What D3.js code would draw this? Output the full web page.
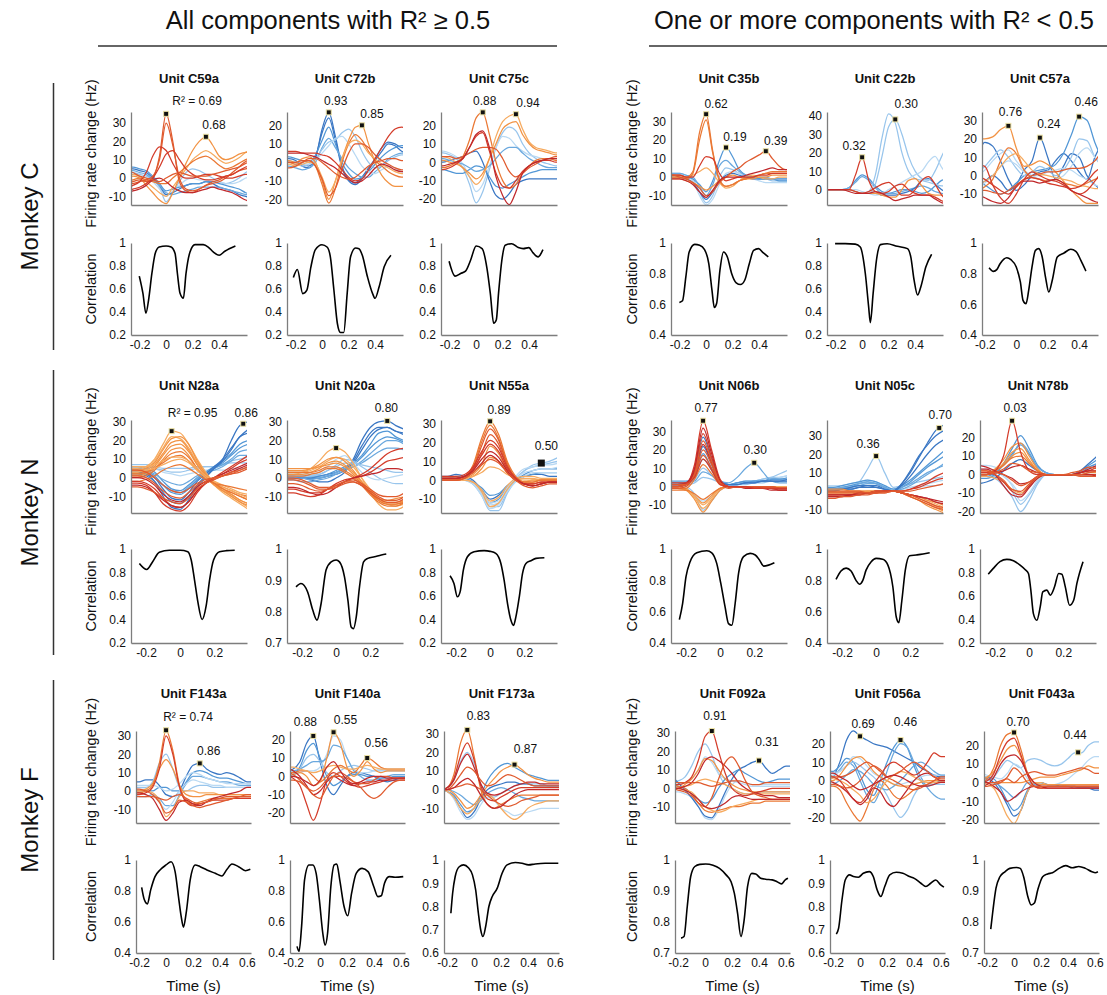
<!DOCTYPE html>
<html>
<head>
<meta charset="utf-8">
<script src="https://cdn.jsdelivr.net/npm/d3@7"></script>
<style>
  body { margin: 0; background: #fff; }
  svg text { font-family: "Liberation Sans", Arial, Helvetica, sans-serif; fill: #111; }
</style>
</head>
<body>
<script>
// ---------- time grids (s) ----------
var tC = [-0.30,-0.25,-0.20,-0.15,-0.10,-0.05,0,0.05,0.10,0.15,0.20,0.25,0.30,0.35,0.40,0.45,0.50,0.55,0.60,0.65];
var tC57 = [-0.25,-0.20,-0.15,-0.10,-0.05,0,0.05,0.10,0.15,0.20,0.25,0.30,0.35,0.40,0.45,0.50,0.55];
var tN = [-0.30,-0.25,-0.20,-0.15,-0.10,-0.05,0,0.05,0.10,0.15,0.20,0.25,0.30,0.35,0.40];
var tF = [-0.30,-0.25,-0.20,-0.15,-0.10,-0.05,0,0.05,0.10,0.15,0.20,0.25,0.30,0.35,0.40,0.45,0.50,0.55,0.60,0.65];

// ---------- tick labels ----------
var ticksRate30 = [-10,0,10,20,30];
var ticksRate20 = [-20,-10,0,10,20];
var ticksRate40 = [0,10,20,30,40];
var ticksCorr02 = [0.2,0.4,0.6,0.8,1];
var ticksCorr04 = [0.4,0.6,0.8,1];
var ticksCorr06 = [0.6,0.7,0.8,0.9,1];
var ticksCorr07 = [0.7,0.8,0.9,1];
var ticksTimeC = [-0.2,0,0.2,0.4];
var ticksTimeN = [-0.2,0,0.2];
var ticksTimeF = [-0.2,0,0.2,0.4,0.6];

// component groups (first entry of each firing-rate row)
var groups = ["db","mb","b2","lb","lb2","lo","o","do","ro","r","dr"];

// ================= Monkey C =================
var ratesC59a = [
  ["lb", 3,3,2,1,-1,-5,-13,-8,-2,3,5,4,2,0,-2,-3,-2,0,3,4],
  ["lb2", 2,2,1,0,-2,-6,-10,-7,-4,-1,0,-1,-1,-2,-2,-3,-3,-2,0,1],
  ["db", 5,5,4,3,0,-4,-9,-8,-6,-4,-3,-3,-2,-3,-5,-6,-7,-9,-10,-11],
  ["mb", 6,6,5,4,1,-3,-7,-6,-5,-4,-3,-3,-2,-2,-3,-4,-5,-6,-8,-9],
  ["b2", 4,4,3,2,-1,-4,-8,-9,-8,-7,-6,-5,-5,-5,-5,-6,-7,-8,-9,-9],
  ["lo", 2,2,1,-2,-5,-8,-10,-5,0,5,10,13,15,13,10,8,9,11,14,15],
  ["o", 0,1,0,-4,-8,-12,-14,-8,0,8,15,20,22.5,18,12,10,11,13,14,14],
  ["do", -2,-1,0,-1,-2,-3,-3,0,3,6,9,11,12,10,7,5,6,8,10,11],
  ["ro", -3,-2,-1,-2,0,12,35,20,-2,-7,-8,-6,-4,-3,-2,0,3,6,9,10],
  ["ro", -3,-3,-2,-1,1,10,30,18,0,-6,-7,-6,-4,-2,-1,1,2,4,5,6],
  ["r", -5,-4,-2,3,12,17,15,8,2,0,0,1,2,2,1,0,0,1,2,2],
  ["r", -7,-6,-5,-3,0,6,13,15,10,5,2,0,-1,-1,0,1,2,4,6,7],
  ["dr", -8,-7,-6,-4,-1,0,-2,-5,-7,-8,-8,-7,-6,-5,-6,-7,-8,-10,-12,-13],
  ["ro", 4,3,1,0,-1,-2,0,2,3,2,1,1,1,2,3,4,5,6,8,9]
];
var peaksC59a = [[0, 35, "R² = 0.69"], [0.30, 22.5, "0.68"]];
var corrC59a = [[-0.2025,0.712],[-0.175,0.562],[-0.1525,0.389],[-0.1325,0.504],[-0.1075,0.735],[-0.0825,0.908],[-0.0525,0.965],[0,0.974],[0.0375,0.965],[0.0675,0.908],[0.085,0.735],[0.105,0.562],[0.13,0.519],[0.15,0.735],[0.18,0.922],[0.2175,0.986],[0.28,0.986],[0.3175,0.965],[0.355,0.922],[0.40,0.893],[0.4425,0.928],[0.5225,0.974]];

var ratesC72b = [
  ["db", 2,2,1,-2,-3,2,18,27,14,-2,-9,-11,-8,-3,2,8,11,10,8,8],
  ["db", 0,0,0,-1,-2,3,16,24,12,-3,-10,-12,-9,-4,1,6,10,9,6,5],
  ["mb", 3,3,2,1,0,4,12,19,10,0,-6,-9,-8,-5,-1,3,6,8,9,9],
  ["b2", -2,-2,-3,-4,-3,0,8,13,8,2,-3,-6,-8,-8,-5,-2,2,4,5,5],
  ["lb", 0,0,-1,-2,-1,2,7,11,12,16,18,14,6,0,-3,-2,1,3,4,4],
  ["lb2", 1,1,0,-1,-1,1,5,9,13,14,10,4,-2,-5,-6,-4,-2,-3,-5,-6],
  ["o", 1,1,0,2,3,0,-10,-20,-10,2,12,19,20,10,0,-7,-11,-13,-13,-13],
  ["do", 0,0,-1,0,1,-2,-12,-22,-14,0,10,15,12,6,1,-2,-5,-7,-8,-8],
  ["lo", -1,-1,-2,-1,0,-1,-8,-16,-10,2,10,12,10,5,2,-1,-3,-5,-6,-6],
  ["ro", 0,0,0,1,1,-2,-9,-18,-14,-4,5,10,10,8,4,1,-1,-3,-4,-4],
  ["r", 6,6,6,5,5,5,4,3,0,-4,-8,-10,-9,-4,2,8,14,18,19,18],
  ["dr", 5,5,5,5,4,3,1,-1,-3,-6,-9,-11,-10,-7,-3,-1,-2,-4,-5,-5],
  ["ro", -3,-3,-2,0,2,2,0,-3,-6,-8,-9,-8,-5,-2,0,1,2,2,1,1]
];
var peaksC72b = [[0.05, 27, "0.93"], [0.30, 20, "0.85"]];
var corrC72b = [[-0.217,0.70],[-0.187,0.77],[-0.146,0.56],[-0.115,0.59],[-0.085,0.79],[-0.052,0.94],[-0.001,0.985],[0.037,0.965],[0.062,0.88],[0.088,0.6],[0.115,0.30],[0.138,0.222],[0.163,0.222],[0.189,0.562],[0.214,0.879],[0.252,0.957],[0.278,0.951],[0.303,0.893],[0.342,0.706],[0.380,0.562],[0.399,0.519],[0.430,0.620],[0.468,0.793],[0.519,0.893]];

var ratesC75c = [
  ["lb", 5,5,4,2,-3,-12,-22,-16,-4,8,16,19,17,10,5,2,0,-1,-2,-2],
  ["lb2", 6,6,5,3,-1,-8,-16,-12,-2,8,14,13,9,6,4,3,2,2,2,2],
  ["db", 0,0,1,2,3,5,6,0,-10,-18,-20,-17,-12,-10,-9,-9,-9,-9,-9,-9],
  ["mb", -4,-4,-5,-6,-6,-4,-2,-3,-8,-13,-14,-12,-10,-8,-6,-5,-4,-4,-4,-4],
  ["b2", 2,2,1,0,-1,-3,-5,-4,-2,2,6,8,8,5,2,0,-2,-3,-3,-3],
  ["do", -3,-3,-2,0,3,12,24,27,15,0,-10,-14,-12,-6,-2,1,2,2,1,1],
  ["lo", 3,3,2,0,-3,-8,-12,-8,2,14,22,25,26,18,11,8,7,6,5,5],
  ["o", 1,1,0,-1,-3,-6,-9,-6,2,10,18,21,22,15,10,7,6,5,4,4],
  ["ro", 3,3,3,2,3,5,7,8,8,7,2,-5,-8,-6,-3,-1,1,2,3,3],
  ["r", -4,-4,-3,-1,2,8,14,16,6,-6,-13,-14,-10,-5,-2,0,1,1,0,0],
  ["dr", -2,-2,-1,0,2,8,15,17,8,-8,-18,-23,-16,-6,-2,0,1,2,2,2]
];
var peaksC75c = [[0.05, 27, "0.88"], [0.30, 26, "0.94"]];
var corrC75c = [[-0.204,0.841],[-0.159,0.712],[-0.117,0.735],[-0.080,0.755],[-0.042,0.850],[0,0.974],[0.045,0.951],[0.082,0.778],[0.107,0.562],[0.132,0.303],[0.152,0.331],[0.169,0.562],[0.194,0.850],[0.219,0.980],[0.268,0.994],[0.318,0.960],[0.355,0.951],[0.398,0.960],[0.430,0.914],[0.467,0.879],[0.504,0.942]];

var ratesC35b = [
  ["lb", 2,2,2,1,-1,-8,-14,-10,0,5,4,2,1,0,-1,-1,-2,-2,-2,-2],
  ["lb2", 1,1,1,0,-2,-10,-15,-12,-4,2,3,2,0,-1,-2,-3,-3,-3,-3,-3],
  ["db", 0,0,0,-1,-3,-8,-12,-8,-2,1,2,1,0,-1,-1,-1,-1,-1,-1,-1],
  ["mb", 1,1,1,0,-1,-4,-8,-2,9,16,11,4,1,0,-1,-1,-1,-2,-2,-2],
  ["b2", 2,2,2,1,0,-5,-10,-4,6,9,6,3,1,0,0,0,-1,-1,-1,-1],
  ["lo", 0,0,0,0,1,3,5,2,-3,-6,-5,-2,0,1,0,-1,-1,0,0,0],
  ["o", -1,-1,-1,-2,-3,-5,-7,-5,-2,0,1,0,-1,-1,0,0,1,1,1,1],
  ["do", 1,1,1,0,3,24,34,14,-2,-5,-4,-2,-1,0,1,2,3,3,3,3],
  ["do", 0,0,0,-1,2,20,31,13,-1,-5,-4,-2,-1,0,1,2,2,2,2,2],
  ["r", 1,1,1,0,0,6,11,10,2,-2,-1,0,0,0,1,1,2,2,2,2],
  ["ro", 1,1,0,-1,-3,-6,-10,-8,-3,0,3,5,8,10,12,14,10,6,4,4],
  ["dr", -1,-1,-1,-2,-4,-8,-11,-7,-2,0,0,0,1,2,3,4,5,4,4,4]
];
var peaksC35b = [[0, 34, "0.62"], [0.15, 16, "0.19"], [0.45, 14, "0.39"]];
var corrC35b = [[-0.202,0.612],[-0.178,0.623],[-0.153,0.779],[-0.128,0.941],[-0.086,0.991],[-0.049,0.985],[-0.012,0.957],[0.020,0.866],[0.044,0.692],[0.062,0.579],[0.079,0.605],[0.104,0.822],[0.131,0.941],[0.160,0.909],[0.193,0.800],[0.227,0.740],[0.259,0.729],[0.291,0.757],[0.326,0.866],[0.358,0.952],[0.395,0.963],[0.432,0.935],[0.469,0.909]];

var ratesC22b = [
  ["mb", 0,0,0,0,1,5,8,6,2,-1,-2,-1,0,0,-1,-2,-1,2,5,6],
  ["b2", 0,0,0,0,1,4,7,5,1,-2,-2,-2,-1,0,1,2,1,-1,-2,-3],
  ["db", 0,0,0,0,0,-1,-2,-2,-2,-3,-3,-3,-2,-1,1,5,6,3,0,-2],
  ["lb", 0,0,0,0,0,-1,-2,-1,8,28,41,36,20,10,6,5,4,3,2,2],
  ["lb", 0,0,0,0,0,-1,-2,-2,3,18,34,38,30,18,10,6,5,10,18,25],
  ["lb2", 0,0,0,0,0,0,-1,-2,-3,-2,0,2,4,6,8,10,15,18,12,8],
  ["o", 0,0,0,0,0,-1,-2,-2,-2,-3,-4,-4,0,5,6,2,-2,-3,-3,-3],
  ["r", 0,0,0,0,0,8,17.5,5,-1,-2,-1,2,3,0,-2,-3,-3,-4,-6,-7],
  ["r", 0,0,0,0,0,-1,-2,-1,1,3,4,1,-3,-3,0,5,7,3,-3,-6],
  ["dr", 0,0,0,0,-1,-2,-2,-2,-1,-2,-4,-6,-5,-4,-3,-3,-3,-5,-7,-8]
];
var peaksC22b = [[0, 17.5, "0.32"], [0.25, 38, "0.30"]];
var corrC22b = [[-0.204,0.995],[-0.128,0.995],[-0.052,0.99],[-0.014,0.965],[0.024,0.735],[0.049,0.447],[0.062,0.308],[0.083,0.562],[0.108,0.85],[0.138,0.986],[0.189,0.994],[0.265,0.971],[0.342,0.951],[0.367,0.879],[0.392,0.677],[0.418,0.548],[0.443,0.620],[0.481,0.793],[0.524,0.902]];

var ratesC57a = [
  ["db", 8,18,16,8,-2,-8,-5,0,2,3,8,12,8,2,-2,10,18],
  ["db", -5,-3,0,-3,-8,-5,3,8,20.6,10,-2,5,12,10,0,-5,-8],
  ["mb", -2,-5,-8,-10,-8,-4,0,2,3,4,6,12,22,32,30,18,8],
  ["lb", 2,5,10,14,10,4,0,2,5,3,0,3,10,20,19,10,5],
  ["lb2", 0,3,8,12,14,8,3,0,-2,-3,-2,0,5,12,15,10,6],
  ["lb2", -6,-4,0,5,8,6,2,0,0,2,3,4,3,0,-2,-5,-6],
  ["o", 20,20,21,25,27,15,5,6,8,6,2,-3,-8,-12,-15,-15,-15],
  ["do", -8,-6,-2,8,15,12,3,-1,-2,-3,-2,-4,-5,-6,-4,-2,-1],
  ["lo", -5,-3,0,5,10,12,8,3,1,0,-1,-2,-3,-5,-6,-7,-7],
  ["r", 6,5,-5,-12,-15,-10,-2,2,0,-2,-3,-5,-8,-10,-8,-3,3],
  ["dr", -10,-12,-14,-15,-12,-6,-3,-3,-4,-3,-2,-4,-8,-10,-12,-14,-15],
  ["ro", -8,-8,-9,-10,-8,-5,-2,0,1,2,2,3,4,4,5,8,14],
  ["r", 0,-2,-5,-8,-10,-6,-2,-1,-2,-4,-5,-6,-7,-6,-3,2,5]
];
var peaksC57a = [[-0.05, 27, "0.76"], [0.15, 20.6, "0.24"], [0.40, 32, "0.46"]];
var corrC57a = [[-0.173,0.839],[-0.145,0.815],[-0.124,0.826],[-0.103,0.865],[-0.06,0.904],[-0.034,0.891],[0,0.843],[0.026,0.746],[0.043,0.626],[0.062,0.604],[0.079,0.691],[0.10,0.843],[0.122,0.952],[0.143,0.963],[0.165,0.909],[0.186,0.778],[0.207,0.680],[0.229,0.757],[0.261,0.909],[0.304,0.935],[0.347,0.959],[0.379,0.946],[0.411,0.887],[0.443,0.817]];

// ================= Monkey N =================
var ratesN28a = [
  ["lb", 7,7,7,6,5,5,5,5,6,6,6,7,8,8,8],
  ["lb2", 6,6,6,5,3,2,1,2,3,4,4,4,5,5,5],
  ["lb", 6,6,6,5,4,3,3,4,5,6,6,7,9,10,11],
  ["mb", 6,6,5,3,-2,-6,-7,-4,0,3,5,8,12,16,18],
  ["mb", 5,5,4,1,-4,-8,-9,-6,-1,3,6,9,13,18,20],
  ["b2", 4,4,4,2,-1,-3,-4,-2,1,3,4,6,9,12,12],
  ["b2", 3,3,2,0,-4,-7,-8,-5,0,3,5,7,10,14,15],
  ["db", 3,3,2,-2,-10,-16,-17,-12,-5,0,5,10,20,28,30],
  ["db", 2,2,1,-2,-8,-13,-14,-10,-4,1,5,9,15,22,24],
  ["db", 4,4,3,0,-6,-11,-12,-8,-2,2,6,10,16,22,26],
  ["lo", 5,5,6,10,18,25,24,18,10,3,-3,-7,-10,-13,-16],
  ["lo", 4,4,5,9,16,22,21,16,8,2,-4,-8,-11,-14,-17],
  ["o", 4,4,5,8,15,21,22,18,9,2,-3,-6,-9,-12,-14],
  ["o", 3,3,4,7,13,19,20,15,7,1,-4,-7,-10,-13,-15],
  ["o", 2,2,3,6,12,17,18,14,7,1,-3,-6,-8,-10,-12],
  ["o", 1,1,2,5,10,15,16,12,5,0,-4,-7,-9,-12,-14],
  ["do", 0,0,1,4,9,13,14,11,5,0,-3,-5,-7,-9,-10],
  ["do", 2,2,3,5,8,11,12,9,4,0,-3,-6,-8,-10,-12],
  ["lo", 3,3,4,5,7,9,10,8,4,0,-2,-4,-6,-8,-9],
  ["lo", 6,6,6,7,9,11,11,9,5,1,-2,-5,-7,-9,-11],
  ["do", -2,-2,-1,1,4,6,7,5,2,-1,-3,-4,-5,-6,-7],
  ["r", -3,-3,-4,-8,-14,-17,-18,-15,-8,-3,0,3,6,9,12],
  ["r", -2,-2,-3,-6,-11,-15,-16,-13,-7,-3,0,2,5,8,10],
  ["dr", 0,0,-1,-4,-9,-12,-13,-10,-5,-2,0,2,4,6,8],
  ["dr", -4,-4,-5,-8,-12,-15,-16,-13,-7,-3,-1,1,3,5,7],
  ["ro", 4,4,3,0,-4,-7,-8,-6,-3,-1,0,1,2,3,5],
  ["ro", 1,1,0,-3,-7,-10,-11,-8,-4,-2,0,1,3,4,6],
  ["ro", -5,-5,-6,-8,-11,-13,-14,-11,-6,-3,-1,1,2,4,6]
];
var peaksN28a = [[-0.05, 25, "R² = 0.95"], [0.37, 29, "0.86"]];
var corrN28a = [[-0.239,0.877],[-0.196,0.826],[-0.161,0.892],[-0.122,0.972],[-0.063,0.989],[0,0.989],[0.045,0.977],[0.065,0.906],[0.084,0.74],[0.104,0.55],[0.129,0.40],[0.153,0.52],[0.173,0.74],[0.196,0.906],[0.231,0.977],[0.271,0.986],[0.320,0.989]];

var ratesN20a = [
  ["db", 0,0,0,-1,-2,-2,0,3,10,20,27,30,30.5,28,26],
  ["db", 1,1,0,0,1,2,3,5,8,15,22,26,27,25,23],
  ["db", 0,0,0,0,0,1,2,4,9,17,24,27,27,25,24],
  ["mb", 2,2,2,1,1,2,4,6,8,12,18,24,25,22,20],
  ["mb", 1,1,1,0,0,1,3,5,7,11,16,20,22,21,19],
  ["b2", -1,-1,-2,-2,-1,0,2,4,6,9,13,17,20,20,18],
  ["b2", 0,0,0,-1,0,1,3,5,6,8,11,14,16,16,15],
  ["lb", 3,3,3,2,2,4,7,10,9,6,3,0,-2,-3,-3],
  ["lb", 1,1,1,1,2,4,6,8,8,7,6,5,4,3,3],
  ["lb2", 2,2,2,2,3,6,10,12,8,3,0,-1,0,1,2],
  ["lo", 2,2,3,5,9,14,16,14,8,0,-8,-14,-17,-17,-15],
  ["lo", 3,3,3,4,6,9,11,10,6,0,-6,-11,-14,-15,-14],
  ["o", 4,4,4,5,7,10,11,9,4,-2,-8,-12,-14,-14,-12],
  ["o", 5,5,5,5,6,7,8,6,2,-3,-8,-11,-12,-11,-10],
  ["o", 2,2,2,3,5,8,9,7,3,-2,-7,-11,-13,-13,-12],
  ["do", 1,1,1,2,3,5,5,3,0,-4,-9,-13,-15,-15,-13],
  ["do", 3,3,3,3,4,6,6,4,1,-3,-8,-12,-14,-14,-13],
  ["r", -8,-8,-9,-10,-9,-6,-3,-1,0,2,5,9,13,15,16],
  ["r", -6,-6,-7,-8,-8,-6,-4,-2,0,1,3,6,9,10,11],
  ["dr", -5,-5,-6,-8,-9,-8,-5,-2,0,1,2,3,5,5,4],
  ["ro", 0,0,-1,-3,-5,-5,-4,-2,-1,-3,-6,-9,-10,-10,-8],
  ["ro", -1,-1,-2,-4,-6,-6,-5,-3,-2,-4,-8,-11,-13,-13,-11],
  ["ro", -3,-3,-4,-6,-7,-6,-4,-2,-2,-4,-7,-10,-12,-12,-10]
];
var peaksN20a = [[0, 16, "0.58"], [0.30, 30.5, "0.80"]];
var corrN20a = [[-0.235,0.879],[-0.206,0.890],[-0.167,0.863],[-0.137,0.805],[-0.112,0.773],[-0.088,0.826],[-0.059,0.933],[-0.029,0.959],[0,0.965],[0.0196,0.959],[0.049,0.911],[0.069,0.837],[0.088,0.751],[0.102,0.746],[0.118,0.783],[0.137,0.879],[0.161,0.959],[0.186,0.970],[0.225,0.975],[0.265,0.981],[0.294,0.984]];

var ratesN55a = [
  ["db", 2,2,3,2,0,-5,-10,-8,-3,0,2,3,3,2,2],
  ["mb", 1,1,2,1,-1,-6,-12,-10,-4,0,3,5,6,6,6],
  ["mb", 1,1,2,1,-1,-4,-8,-7,-3,0,2,3,4,4,4],
  ["lb", 0,0,0,0,-2,-8,-16,-16,-7,0,5,8,9,10,12],
  ["lb", 0,0,0,0,-2,-7,-14,-14,-6,1,5,7,8,9,10],
  ["lb2", 0,0,0,0,-2,-8,-15,-13,-5,2,6,7,8,8,9],
  ["lb2", 1,1,1,0,-2,-7,-13,-12,-6,-1,2,4,4,4,4],
  ["lb2", 1,1,1,0,-2,-6,-12,-11,-4,1,4,5,6,6,7],
  ["lo", 0,0,0,0,-1,-6,-14,-12,-5,0,1,1,0,0,0],
  ["lo", 0,0,0,0,-1,-5,-11,-9,-3,1,2,2,1,1,1],
  ["o", 0,0,0,1,3,8,18,14,5,0,-1,0,0,0,0],
  ["o", 0,0,0,1,2,6,12,10,4,0,-1,0,0,0,0],
  ["lo", 1,1,1,1,2,4,7,6,3,1,0,0,0,0,0],
  ["do", 1,1,1,2,8,22,31,24,10,2,-1,-1,0,0,0],
  ["do", 1,1,1,2,7,20,29,22,9,1,-1,-1,0,0,0],
  ["ro", 0,0,0,1,6,18,27,21,8,1,-2,-2,-1,-1,-1],
  ["ro", 0,0,0,1,5,14,24,19,7,1,-2,-2,-1,-1,-1],
  ["r", 2,2,2,3,7,15,21,17,7,1,-2,-2,-1,-1,-1],
  ["r", 1,1,1,2,6,13,19,15,6,1,-2,-3,-2,-1,-1],
  ["dr", 1,1,1,2,5,11,15,12,5,0,-2,-3,-2,-1,-1],
  ["dr", 1,1,1,2,4,9,13,10,4,0,-2,-3,-2,-1,-1],
  ["ro", 0,0,0,1,4,8,11,9,4,0,-3,-4,-3,-2,-2]
];
var peaksN55a = [[0, 31, "0.89"], [0.30, 9, "0.50"]];
var corrN55a = [[-0.235,0.772],[-0.212,0.707],[-0.192,0.593],[-0.176,0.635],[-0.157,0.821],[-0.133,0.934],[-0.094,0.977],[-0.035,0.986],[0,0.980],[0.033,0.963],[0.063,0.877],[0.082,0.735],[0.102,0.536],[0.122,0.393],[0.137,0.350],[0.151,0.422],[0.171,0.593],[0.190,0.792],[0.210,0.877],[0.239,0.900],[0.269,0.920],[0.318,0.926]];

var ratesN06b = [
  ["lb", 2,2,2,4,10,6,2,1,1,2,3,4,5,7,9],
  ["lb", 1,1,1,2,5,4,2,1,2,3,3,4,5,5,6],
  ["lb2", 0,0,-1,-5,-8,-5,-1,0,1,2,3,3,4,5,6],
  ["lb", 1,1,0,-4,-13,-8,-2,0,1,1,2,2,3,3,3],
  ["mb", 3,3,3,6,18,10,2,1,2,3,3,3,4,4,5],
  ["mb", 2,2,2,5,15,9,2,1,2,2,3,3,4,4,4],
  ["b2", 2,2,2,3,8,6,3,2,5,10,13,8,3,2,2],
  ["db", 1,1,2,8,27,15,3,1,1,2,2,3,3,3,4],
  ["db", 1,1,2,6,22,12,2,1,1,2,2,3,3,3,3],
  ["o", -1,-1,-2,-7,-14,-8,-2,0,0,0,0,0,0,0,0],
  ["o", -1,-1,-2,-5,-9,-5,-1,0,0,0,0,0,0,0,0],
  ["lo", 0,0,-1,-5,-10,-6,-1,0,0,0,0,0,0,0,0],
  ["lo", 0,0,-1,-6,-12,-7,-1,0,0,0,0,0,0,0,0],
  ["do", -2,-2,-2,-4,-7,-4,-1,0,0,0,0,-1,-1,-1,-1],
  ["do", -1,-1,-1,4,12,7,1,0,0,0,0,0,0,-1,-1],
  ["r", 0,0,1,12,36,20,4,0,0,0,-1,-1,-1,-2,-2],
  ["r", 1,1,1,9,29,16,3,0,0,0,-1,-1,-1,-2,-2],
  ["dr", 1,1,2,10,32,18,3,0,0,-1,-1,-1,-2,-2,-2],
  ["dr", 0,0,1,8,23,13,2,0,0,0,-1,-1,-1,-1,-1],
  ["ro", -1,-1,0,7,25,14,2,0,0,0,0,0,-1,-1,-1],
  ["ro", 0,0,1,6,20,12,2,-1,0,0,0,0,0,-1,-1],
  ["ro", 1,1,1,6,17,10,2,0,0,0,0,0,0,-1,-1],
  ["r", 2,2,2,5,15,9,1,0,0,0,-1,-1,-1,-1,-1]
];
var peaksN06b = [[-0.10, 36, "0.77"], [0.20, 13, "0.30"]];
var corrN06b = [[-0.239,0.549],[-0.220,0.652],[-0.2,0.823],[-0.176,0.919],[-0.137,0.976],[-0.078,0.989],[-0.049,0.976],[-0.020,0.908],[0.004,0.780],[0.029,0.630],[0.049,0.524],[0.069,0.513],[0.088,0.652],[0.108,0.844],[0.137,0.951],[0.176,0.972],[0.206,0.962],[0.231,0.929],[0.255,0.891],[0.284,0.897],[0.318,0.912]];

var ratesN05c = [
  ["lb", 2,2,2,3,5,12,19,10,2,3,4,5,6,7,8],
  ["lb2", 3,3,3,4,5,6,5,3,1,1,2,3,4,5,6],
  ["lb2", 2,2,2,3,4,4,4,2,1,1,2,2,3,3,4],
  ["mb", 2,2,3,4,5,6,5,3,1,3,6,10,14,18,22],
  ["mb", 1,1,2,3,4,5,4,2,0,2,5,9,13,16,19],
  ["b2", 0,0,1,2,4,5,4,2,0,1,3,6,9,12,15],
  ["b2", 1,1,2,2,3,4,4,2,0,2,4,7,10,12,14],
  ["db", 0,0,1,1,2,2,2,1,0,4,10,18,26,33,36],
  ["db", 1,1,1,2,3,3,2,1,0,3,8,14,20,25,28],
  ["db", 0,0,1,1,2,3,3,1,0,4,11,19,25,30,33],
  ["o", -1,-1,-1,-1,-1,-1,0,0,0,-1,-3,-5,-8,-10,-12],
  ["o", 0,0,0,0,0,0,0,0,0,-1,-3,-5,-7,-9,-11],
  ["lo", -2,-2,-2,-2,-1,-1,-1,0,0,-1,-2,-4,-6,-8,-10],
  ["lo", -1,-1,-1,-1,-1,0,0,0,0,-1,-2,-3,-5,-7,-9],
  ["o", 1,1,1,0,0,0,0,0,0,-1,-2,-3,-5,-6,-8],
  ["r", -3,-3,-3,-2,-2,-1,-1,0,0,0,1,3,5,8,10],
  ["r", -2,-2,-2,-2,-1,-1,0,0,0,0,1,2,4,6,7],
  ["dr", -2,-2,-2,-2,-1,-1,0,0,0,-1,-2,-3,-4,-5,-6],
  ["dr", -3,-3,-3,-2,-2,-1,-1,0,0,-1,-2,-3,-4,-6,-7],
  ["ro", -4,-4,-3,-3,-2,-2,-1,-1,0,0,0,1,2,3,4],
  ["ro", 0,0,0,0,0,-1,-1,-1,0,-1,-3,-5,-7,-9,-10],
  ["ro", -1,-1,-1,-1,-1,-1,0,0,0,-1,-2,-4,-6,-8,-9]
];
var peaksN05c = [[0, 19, "0.36"], [0.37, 34.3, "0.70"]];
var corrN05c = [[-0.235,0.806],[-0.206,0.86],[-0.176,0.878],[-0.147,0.86],[-0.118,0.80],[-0.098,0.775],[-0.078,0.80],[-0.059,0.865],[-0.029,0.919],[0,0.940],[0.039,0.934],[0.069,0.897],[0.098,0.759],[0.118,0.566],[0.133,0.530],[0.151,0.673],[0.171,0.865],[0.196,0.957],[0.235,0.962],[0.275,0.968],[0.314,0.976]];

var ratesN78b = [
  ["lb", 0,0,-2,-6,-12,-20,-14,-5,0,0,0,0,0,0,0],
  ["lb", 1,1,-1,-4,-9,-16,-11,-4,0,0,0,0,0,0,0],
  ["lb2", 5,5,4,0,-6,-14,-10,-3,0,0,0,0,0,1,2],
  ["lb2", 3,3,2,-1,-5,-10,-7,-2,0,0,0,0,0,1,1],
  ["mb", -2,-2,0,6,14,21,14,5,1,0,0,0,2,5,8],
  ["mb", -1,-1,1,5,11,16,11,4,1,0,0,0,1,4,6],
  ["b2", 0,0,2,5,10,17,12,4,1,0,0,0,1,3,5],
  ["db", -5,-4,-2,2,6,8,5,2,0,0,0,0,2,6,10],
  ["o", 1,1,3,8,15,17,10,3,0,0,0,0,0,0,0],
  ["o", 0,0,2,6,12,14,8,2,0,0,0,0,1,2,2],
  ["o", 0,0,2,5,10,12,7,2,0,0,0,0,0,1,1],
  ["do", 1,1,2,5,9,10,6,2,0,0,0,0,0,0,0],
  ["lo", -1,-1,-2,-4,-8,-10,-6,-2,0,0,0,0,0,0,0],
  ["r", 0,0,2,10,29,12,2,0,0,0,0,0,0,0,0],
  ["r", 1,1,0,-4,-9,-11,-6,-1,0,0,0,0,1,2,4],
  ["dr", 3,3,0,-6,-11,-12,-7,-2,0,0,0,0,1,3,5],
  ["dr", 5,4,2,0,-2,-5,-4,-1,0,0,0,0,0,0,-1],
  ["dr", 0,0,1,2,4,5,3,1,0,0,0,0,1,2,2],
  ["ro", 2,2,0,-3,-8,-9,-5,-1,0,0,0,0,-1,-1,-1],
  ["ro", 2,2,1,0,-3,-6,-4,-1,0,0,0,0,0,1,2],
  ["ro", 0,0,1,3,6,5,2,1,0,0,0,1,2,4,3]
];
var peaksN78b = [[-0.10, 29, "0.03"]];
var corrN78b = [[-0.239,0.786],[-0.21,0.835],[-0.171,0.892],[-0.131,0.912],[-0.092,0.900],[-0.053,0.863],[-0.024,0.826],[-0.004,0.792],[0.01,0.650],[0.025,0.45],[0.045,0.393],[0.065,0.507],[0.080,0.635],[0.104,0.650],[0.124,0.607],[0.149,0.678],[0.173,0.792],[0.192,0.786],[0.212,0.678],[0.237,0.521],[0.261,0.564],[0.280,0.707],[0.316,0.892]];

// ================= Monkey F =================
var ratesF143a = [
  ["db", 5,5,5,6,6,3,-2,-3,0,8,14,15,12,10,9,10,9,7,5,5],
  ["mb", 0,0,0,0,0,2,2,0,0,5,10,11,10,8,7,7,6,5,4,4],
  ["b2", -2,-2,-3,-3,-2,-4,-8,-8,-2,4,8,8,7,6,5,5,4,3,3,3],
  ["lb", 2,2,2,2,5,15,20,12,2,0,2,3,3,2,2,2,2,2,2,2],
  ["lb2", 1,1,1,1,-2,-6,-10,-6,0,4,6,5,4,3,3,2,2,2,2,2],
  ["lb2", 3,3,3,3,3,2,0,1,4,8,10,9,7,6,5,4,4,4,4,4],
  ["lo", 0,0,0,0,-1,-5,-14,-10,-3,0,0,-1,-1,-1,-2,-2,-2,-2,-2,-2],
  ["o", 0,0,0,1,4,12,17,12,3,-2,-3,-3,-2,-2,-2,-2,-2,-2,-2,-2],
  ["do", -1,-1,-1,0,3,15,33,22,3,-5,-7,-6,-5,-4,-4,-4,-4,-4,-4,-4],
  ["r", -2,-2,-2,-1,2,12,30,20,2,-6,-8,-7,-6,-5,-5,-5,-4,-4,-4,-4],
  ["dr", -1,-1,-1,-2,-4,-10,-16,-12,-6,-5,-7,-8,-6,-4,-3,-2,-1,0,2,2],
  ["ro", 1,1,1,0,-2,-6,-12,-10,-5,-6,-8,-9,-8,-7,-6,-5,-4,-3,-2,-2],
  ["ro", -3,-3,-3,-3,-3,-4,-5,-3,-2,-4,-6,-7,-6,-5,-4,-3,-3,-3,-3,-3]
];
var peaksF143a = [[0, 33, "R² = 0.74"], [0.25, 15, "0.86"]];
var corrF143a = [[-0.181,0.824],[-0.161,0.743],[-0.139,0.717],[-0.114,0.807],[-0.082,0.893],[-0.045,0.936],[0,0.968],[0.037,0.989],[0.067,0.925],[0.092,0.764],[0.112,0.636],[0.129,0.567],[0.149,0.657],[0.179,0.872],[0.216,0.968],[0.253,0.957],[0.303,0.936],[0.365,0.914],[0.414,0.897],[0.452,0.940],[0.489,0.974],[0.538,0.957],[0.588,0.931],[0.625,0.940]];

var ratesF140a = [
  ["db", 3,3,4,8,18,22,8,-5,-10,-5,0,2,2,1,0,-2,-3,-2,-1,-1],
  ["mb", 0,0,1,5,14,18,10,0,-5,-3,0,1,1,0,0,-1,-1,0,0,0],
  ["lb", -2,-2,0,4,10,12,8,2,0,3,5,6,5,4,3,3,3,3,3,3],
  ["lb2", 1,1,1,2,3,3,5,12,22,20,10,4,2,2,3,4,4,4,4,4],
  ["b2", 3,3,3,4,6,8,8,10,17,16,10,3,0,-2,-2,-1,0,1,1,1],
  ["o", 0,0,1,2,0,-5,-3,10,24,18,5,0,3,8,4,2,3,3,3,3],
  ["do", 2,2,2,3,3,0,-3,0,4,6,4,2,6,10,8,5,4,4,4,4],
  ["lo", 5,5,5,4,3,2,3,5,6,5,4,4,5,6,5,4,4,4,4,4],
  ["r", 0,0,-1,-5,-15,-24,-15,-2,2,0,-3,-5,-6,-5,-4,-3,-2,-1,-1,-1],
  ["dr", 5,5,3,0,-5,-10,-8,-3,0,-2,-4,-5,-4,-3,-3,-2,-2,-2,-2,-2],
  ["ro", 2,2,1,-2,-6,-10,-12,-6,0,2,0,-3,-6,-10,-12,-10,-6,-3,-2,-2],
  ["ro", -2,-2,-2,-3,-6,-8,-6,-2,0,0,-1,-3,-4,-4,-2,0,0,-1,-1,-1],
  ["dr", 0,0,0,-1,-3,-5,-2,5,8,3,-2,-4,-3,-1,0,0,-1,-1,-1,-1]
];
var peaksF140a = [[-0.05, 22, "0.88"], [0.10, 24, "0.55"], [0.35, 10, "0.56"]];
var corrF140a = [[-0.171,0.443],[-0.156,0.411],[-0.137,0.572],[-0.115,0.872],[-0.083,0.968],[-0.054,0.968],[-0.029,0.914],[-0.005,0.743],[0.02,0.529],[0.037,0.450],[0.056,0.529],[0.080,0.829],[0.105,0.968],[0.124,0.974],[0.146,0.872],[0.178,0.700],[0.205,0.640],[0.234,0.786],[0.268,0.914],[0.312,0.946],[0.356,0.925],[0.398,0.829],[0.429,0.764],[0.454,0.769],[0.478,0.850],[0.512,0.893],[0.556,0.889],[0.617,0.893]];

var ratesF173a = [
  ["lb", 0,0,1,5,15,20,14,3,-3,-4,-2,0,2,3,3,3,3,2,2,2],
  ["mb", 0,0,-1,-3,-8,-12,-10,-3,5,10,13,14,12,10,8,7,6,5,5,5],
  ["db", 0,0,-1,-4,-10,-15,-12,-5,0,2,3,4,4,3,3,2,2,2,2,2],
  ["b2", 0,0,0,-1,-3,-6,-8,-6,-2,0,1,0,-2,-4,-5,-6,-6,-6,-6,-6],
  ["lb2", 0,0,-1,-5,-12,-16,-14,-8,-4,-6,-10,-12,-14,-13,-12,-11,-10,-10,-10,-10],
  ["do", 0,0,1,8,25,32,18,0,-8,-10,-8,-6,-4,-3,-3,-3,-3,-3,-3,-3],
  ["o", 0,0,0,-2,-6,-10,-8,-3,2,6,10,12,13.4,11,8,6,5,4,4,4],
  ["lo", 0,0,-1,-4,-10,-13,-10,-5,-3,-5,-10,-14,-16,-14,-10,-8,-7,-6,-6,-6],
  ["r", 0,0,1,6,18,25,16,2,-5,-6,-4,-2,0,1,1,1,1,1,1,1],
  ["dr", 0,0,1,5,14,19,12,3,-2,-3,-2,0,2,3,4,4,3,3,3,3],
  ["ro", 0,0,0,3,8,12,10,5,2,3,6,8,7,5,3,2,2,2,2,2],
  ["ro", 0,0,0,1,2,3,2,0,-3,-6,-8,-9,-8,-6,-5,-4,-3,-3,-3,-3],
  ["dr", 0,0,0,1,4,6,3,-3,-8,-10,-9,-6,-3,-1,0,0,0,0,0,0]
];
var peaksF173a = [[-0.05, 32, "0.83"], [0.30, 13.4, "0.87"]];
var corrF173a = [[-0.172,0.771],[-0.159,0.857],[-0.140,0.929],[-0.110,0.971],[-0.078,0.979],[-0.042,0.967],[-0.012,0.936],[0.012,0.871],[0.032,0.771],[0.049,0.700],[0.066,0.671],[0.086,0.714],[0.110,0.800],[0.135,0.843],[0.172,0.879],[0.208,0.943],[0.245,0.979],[0.306,0.989],[0.355,0.986],[0.404,0.979],[0.453,0.983],[0.527,0.986],[0.625,0.986]];

var ratesF092a = [
  ["lb", 3,3,4,6,12,20,24,18,8,2,0,-2,-3,-3,-2,-2,-2,-2,-2,-2],
  ["lb2", 1,1,2,3,5,10,17,14,8,5,4,3,2,1,1,1,1,1,1,1],
  ["lb2", -2,-2,-2,-3,-5,-10,-16,-17,-12,-4,2,4,3,2,2,2,2,2,2,2],
  ["db", 6,6,3,-1,-5,-10,-15,-16,-10,-2,5,10,12,14,15,11,8,10,12,12],
  ["mb", 2,2,1,0,-3,-6,-8,-6,0,5,8,10,8,6,4,3,4,5,5,5],
  ["o", 0,0,0,2,5,10,16,15,10,5,2,0,-1,-2,-2,-2,-2,-2,-2,-2],
  ["do", 2,2,1,0,-3,-8,-12,-13,-12,-11,-10,-10,-9,-8,-8,-7,-7,-7,-7,-7],
  ["lo", 1,1,0,-1,-2,-6,-10,-12,-13,-12,-10,-9,-8,-7,-6,-6,-6,-6,-6,-6],
  ["lo", 0,0,0,1,2,4,5,4,3,2,0,-2,-3,-3,-3,-3,-3,-3,-3,-3],
  ["r", 2,2,2,3,6,15,28,31,20,8,0,-3,-4,-3,-2,-1,0,0,0,0],
  ["dr", 0,0,0,1,3,8,15,17,15,12,8,3,0,-2,-3,-4,-4,-5,-5,-5],
  ["ro", 0,0,-1,-2,-4,-8,-10,-5,5,14,17,12,4,-2,-4,-5,-6,-6,-6,-6],
  ["ro", 3,3,3,3,3,3,2,1,2,3,4,4,3,2,2,3,3,3,3,3],
  ["dr", 0,0,0,-1,-3,-6,-10,-11,-10,-8,-5,-4,-5,-6,-6,-6,-6,-6,-6,-6]
];
var peaksF092a = [[0.05, 31, "0.91"], [0.40, 15, "0.31"]];
var corrF092a = [[-0.178,0.748],[-0.156,0.753],[-0.132,0.850],[-0.107,0.946],[-0.076,0.979],[-0.039,0.986],[0.005,0.987],[0.059,0.983],[0.107,0.973],[0.156,0.952],[0.193,0.930],[0.217,0.893],[0.241,0.829],[0.266,0.753],[0.290,0.807],[0.315,0.914],[0.346,0.957],[0.376,0.955],[0.412,0.941],[0.449,0.938],[0.498,0.936],[0.534,0.930],[0.566,0.923],[0.595,0.936],[0.615,0.941]];

var ratesF056a = [
  ["db", 0,0,2,10,22,27,24,22,20,19,18,16,14,12,10,7,5,3,2,2],
  ["mb", 5,5,5,8,12,10,3,-5,-8,0,10,18,22,18,8,0,-3,-2,0,0],
  ["b2", 0,0,2,6,10,8,0,-8,-12,-5,5,15,20,18,10,2,-4,-8,-10,-10],
  ["lb", 3,3,4,5,8,10,8,5,2,-2,-8,-15,-20,-16,-8,-3,-2,-2,-2,-2],
  ["lb2", 2,2,3,5,8,13,12,8,4,2,0,-2,-2,-1,0,2,3,3,3,3],
  ["b2", -3,-3,-2,0,3,6,5,2,-2,-4,-5,-3,0,4,8,10,8,5,3,3],
  ["do", -3,-3,-3,-5,-12,-18,-22,-15,-5,0,-3,-8,-10,-8,-5,-3,-2,-1,-1,-1],
  ["o", 0,0,0,3,8,12,13,10,5,2,0,-2,-3,-3,-2,-1,0,0,0,0],
  ["lo", 2,2,1,0,-2,-5,-8,-12,-10,-5,0,3,5,4,2,0,-1,-1,-1,-1],
  ["r", 3,3,2,0,-5,-10,-12,-8,-2,3,8,10,8,5,3,5,10,15,13,13],
  ["dr", 0,0,-1,-3,-6,-10,-13,-10,-4,-6,-12,-14,-10,-5,0,3,4,2,0,0],
  ["ro", 2,2,2,2,3,5,8,10,8,5,2,3,5,8,10,8,5,2,1,1],
  ["ro", -2,-2,-2,-3,-4,-3,0,5,8,6,2,0,-2,-4,-5,-4,-2,0,2,2],
  ["dr", 4,4,4,2,0,-3,-5,-4,-2,0,2,3,2,0,-2,-3,-3,-2,-1,-1]
];
var peaksF056a = [[0, 24, "0.69"], [0.30, 22, "0.46"]];
var corrF056a = [[-0.176,0.681],[-0.159,0.707],[-0.134,0.829],[-0.110,0.914],[-0.078,0.936],[-0.049,0.929],[-0.012,0.926],[0.024,0.943],[0.068,0.950],[0.098,0.929],[0.127,0.871],[0.154,0.843],[0.183,0.886],[0.22,0.936],[0.268,0.947],[0.317,0.943],[0.366,0.929],[0.402,0.921],[0.451,0.900],[0.488,0.886],[0.524,0.900],[0.561,0.914],[0.598,0.893],[0.622,0.883]];

var ratesF043a = [
  ["lb", 0,0,1,3,8,12,10,8,12,13,12,10,9,10,13,16,16,20,22,22],
  ["lb2", 5,5,4,3,2,5,10,8,2,-1,-1,-1,-1,0,2,5,8,12,14,14],
  ["db", 2,2,2,0,-5,-12,-18,-15,-5,0,0,-1,-1,-2,-2,-2,-3,-3,-4,-4],
  ["mb", 3,3,3,2,-3,-10,-15,-12,-4,0,0,-1,-1,-1,-2,-2,-3,-3,-3,-3],
  ["b2", 0,0,0,0,-2,-5,-8,-5,0,-1,-2,-2,-2,-2,-2,-3,-3,-3,-3,-3],
  ["lo", 0,0,-1,-3,-10,-18,-22,-15,-5,0,0,-1,-1,-1,-2,-2,-2,-2,-2,-2],
  ["do", 0,0,2,8,20,26,27,18,5,-2,-3,-2,-2,-2,-2,-2,-2,-2,-2,-2],
  ["o", 2,2,3,6,12,18,20,14,5,0,-1,-1,-1,-1,-1,-1,-1,-1,-1,-1],
  ["o", 0,0,0,0,0,0,0,0,1,2,3,3,3,4,5,6,7,9,8,8],
  ["r", 0,0,1,5,15,22,24,15,4,-2,-3,-3,-3,-3,-3,-3,-3,-3,-3,-3],
  ["dr", -2,-2,-1,3,10,14,15,12,5,0,-2,-3,-3,-3,-3,-3,-3,-3,-3,-3],
  ["ro", 0,0,0,0,1,2,0,3,5,6,5,4,4,5,6,7,8,7,5,5],
  ["dr", 1,1,0,-2,-5,-10,-8,-5,-3,-2,-2,-2,-2,-2,-2,-2,-2,-2,-2,-2],
  ["ro", -2,-2,-2,-1,0,3,8,5,0,-2,-2,-2,-2,-2,-2,-2,-2,-2,-2,-2]
];
var peaksF043a = [[0, 27, "0.70"], [0.475, 16.3, "0.44"]];
var corrF043a = [[-0.173,0.777],[-0.159,0.829],[-0.134,0.909],[-0.105,0.946],[-0.068,0.962],[-0.032,0.973],[0.017,0.976],[0.046,0.973],[0.071,0.946],[0.102,0.882],[0.127,0.855],[0.151,0.861],[0.176,0.904],[0.212,0.946],[0.249,0.955],[0.285,0.959],[0.334,0.973],[0.383,0.982],[0.432,0.975],[0.480,0.979],[0.529,0.973],[0.578,0.962],[0.602,0.959],[0.622,0.962]];

// ---------- layout (pixels) ----------
var rowLayout = [
  { fy: 112, fh: 93, cy: 243, ch: 92, titleY: 83, xs: [131, 287, 441, 671, 827, 982], w: 116 },
  { fy: 420, fh: 93, cy: 549, ch: 94, titleY: 390, xs: [131, 287, 441, 671, 827, 980], w: 116 },
  { fy: 731, fh: 92, cy: 860, ch: 93, titleY: 698, xs: [136, 290, 444, 675, 830, 984], w: 115 }
];
// label offsets (dx, dy) of each peak label from its marker, optional marker size
var labelOffsets = {
  C59a: [[31,-13],[8,-12]], C72b: [[7,-12],[10,-12]], C75c: [[2,-12],[12,-12]],
  C35b: [[10,-11],[9,-11],[10,-10]], C22b: [[-8,-12],[11,-16]], C57a: [[2,-14],[9,-14],[7,-15]],
  N28a: [[21,-18],[3,-11]], N20a: [[-12,-15],[-1,-13]], N55a: [[9,-12],[5,-17,7]],
  N06b: [[3,-13],[1,-13]], N05c: [[-8,-12],[1,-13]], N78b: [[3,-13]],
  F143a: [[22,-14],[9,-13]], F140a: [[-8,-14],[12,-13],[9,-15]], F173a: [[11,-14],[11,-16]],
  F092a: [[3,-15],[8,-19]], F056a: [[3,-13],[5,-18]], F043a: [[4,-11],[-3,-18]]
};

var domC = [-0.265, 0.61], domC57 = [-0.218, 0.52], domN = [-0.288, 0.392], domF = [-0.223, 0.63];

var units = [
  { name: "C59a", row: 0, col: 0, t: tC, rates: ratesC59a, peaks: peaksC59a, corr: corrC59a, xDom: domC, xTicks: ticksTimeC, yDom: [-14.7, 36], yTicks: ticksRate30, cDom: [0.2, 1], cTicks: ticksCorr02 },
  { name: "C72b", row: 0, col: 1, t: tC, rates: ratesC72b, peaks: peaksC72b, corr: corrC72b, xDom: domC, xTicks: ticksTimeC, yDom: [-23, 27.2], yTicks: ticksRate20, cDom: [0.2, 1], cTicks: ticksCorr02 },
  { name: "C75c", row: 0, col: 2, t: tC, rates: ratesC75c, peaks: peaksC75c, corr: corrC75c, xDom: domC, xTicks: ticksTimeC, yDom: [-23.2, 27.2], yTicks: ticksRate20, cDom: [0.2, 1], cTicks: ticksCorr02 },
  { name: "C35b", row: 0, col: 3, t: tC, rates: ratesC35b, peaks: peaksC35b, corr: corrC35b, xDom: domC, xTicks: ticksTimeC, yDom: [-15.1, 35.2], yTicks: ticksRate30, cDom: [0.4, 1], cTicks: ticksCorr04 },
  { name: "C22b", row: 0, col: 4, t: tC, rates: ratesC22b, peaks: peaksC22b, corr: corrC22b, xDom: domC, xTicks: ticksTimeC, yDom: [-8.3, 42], yTicks: ticksRate40, cDom: [0.2, 1], cTicks: ticksCorr02 },
  { name: "C57a", row: 0, col: 5, t: tC57, rates: ratesC57a, peaks: peaksC57a, corr: corrC57a, xDom: domC57, xTicks: ticksTimeC, yDom: [-15.9, 34.5], yTicks: ticksRate30, cDom: [0.4, 1], cTicks: ticksCorr04 },
  { name: "N28a", row: 1, col: 0, t: tN, rates: ratesN28a, peaks: peaksN28a, corr: corrN28a, xDom: domN, xTicks: ticksTimeN, yDom: [-19, 31], yTicks: ticksRate30, cDom: [0.2, 1], cTicks: ticksCorr02 },
  { name: "N20a", row: 1, col: 1, t: tN, rates: ratesN20a, peaks: peaksN20a, corr: corrN20a, xDom: domN, xTicks: ticksTimeN, yDom: [-18.7, 31], yTicks: ticksRate30, cDom: [0.7, 1], cTicks: ticksCorr07 },
  { name: "N55a", row: 1, col: 2, t: tN, rates: ratesN55a, peaks: peaksN55a, corr: corrN55a, xDom: domN, xTicks: ticksTimeN, yDom: [-17.3, 31.7], yTicks: ticksRate30, cDom: [0.2, 1], cTicks: ticksCorr02 },
  { name: "N06b", row: 1, col: 3, t: tN, rates: ratesN06b, peaks: peaksN06b, corr: corrN06b, xDom: domN, xTicks: ticksTimeN, yDom: [-14.5, 36.4], yTicks: ticksRate30, cDom: [0.4, 1], cTicks: ticksCorr04 },
  { name: "N05c", row: 1, col: 4, t: tN, rates: ratesN05c, peaks: peaksN05c, corr: corrN05c, xDom: domN, xTicks: ticksTimeN, yDom: [-11.9, 38.6], yTicks: ticksRate30, cDom: [0.4, 1], cTicks: ticksCorr04 },
  { name: "N78b", row: 1, col: 5, t: tN, rates: ratesN78b, peaks: peaksN78b, corr: corrN78b, xDom: domN, xTicks: ticksTimeN, yDom: [-20.7, 29.4], yTicks: ticksRate20, cDom: [0.2, 1], cTicks: ticksCorr02 },
  { name: "F143a", row: 2, col: 0, t: tF, rates: ratesF143a, peaks: peaksF143a, corr: corrF143a, xDom: domF, xTicks: ticksTimeF, yDom: [-17.4, 32.6], yTicks: ticksRate30, cDom: [0.4, 1], cTicks: ticksCorr04 },
  { name: "F140a", row: 2, col: 1, t: tF, rates: ratesF140a, peaks: peaksF140a, corr: corrF140a, xDom: domF, xTicks: ticksTimeF, yDom: [-25.4, 24.7], yTicks: ticksRate20, cDom: [0.4, 1], cTicks: ticksCorr04 },
  { name: "F173a", row: 2, col: 2, t: tF, rates: ratesF173a, peaks: peaksF173a, corr: corrF173a, xDom: domF, xTicks: ticksTimeF, yDom: [-17.9, 31.4], yTicks: ticksRate30, cDom: [0.6, 1], cTicks: ticksCorr06 },
  { name: "F092a", row: 2, col: 3, t: tF, rates: ratesF092a, peaks: peaksF092a, corr: corrF092a, xDom: domF, xTicks: ticksTimeF, yDom: [-18.8, 31], yTicks: ticksRate30, cDom: [0.7, 1], cTicks: ticksCorr07 },
  { name: "F056a", row: 2, col: 4, t: tF, rates: ratesF056a, peaks: peaksF056a, corr: corrF056a, xDom: domF, xTicks: ticksTimeF, yDom: [-23, 26.9], yTicks: ticksRate20, cDom: [0.6, 1], cTicks: ticksCorr06 },
  { name: "F043a", row: 2, col: 5, t: tF, rates: ratesF043a, peaks: peaksF043a, corr: corrF043a, xDom: domF, xTicks: ticksTimeF, yDom: [-21.7, 27.8], yTicks: ticksRate20, cDom: [0.7, 1], cTicks: ticksCorr07 }
];

var groupColor = d3.scaleOrdinal()
  .domain(groups)
  .range(["#3a77c4", "#5297d6", "#6aa8de", "#98c5ec", "#b9d9f3", "#f6ab60", "#f29344", "#ea7834", "#e05a2e", "#d43c2a", "#c0282b"]);

var axisGray = "#7d7d7d";
var svg = d3.select("body").append("svg")
  .attr("width", 1107)
  .attr("height", 995);
var defs = svg.append("defs");

function styleAxis(g) {
  g.attr("font-size", 12).attr("font-family", null);
  g.select(".domain").attr("stroke", axisGray).attr("stroke-width", 1.3);
  g.selectAll(".tick line").attr("stroke", axisGray);
  g.selectAll(".tick text").attr("fill", "#1a1a1a");
}

function drawUnit(u) {
  var L = rowLayout[u.row];
  var x0 = L.xs[u.col], w = L.w;
  var x = d3.scaleLinear().domain(u.xDom).range([x0, x0 + w]);
  var y = d3.scaleLinear().domain(u.yDom).range([L.fy + L.fh, L.fy]);
  var yc = d3.scaleLinear().domain(u.cDom).range([L.cy + L.ch, L.cy]);

  // title
  svg.append("text")
    .attr("x", x0 + w / 2)
    .attr("y", L.titleY)
    .attr("text-anchor", "middle")
    .attr("font-size", 13)
    .attr("font-weight", "bold")
    .text("Unit " + u.name);

  // firing rate traces
  defs.append("clipPath").attr("id", "clip" + u.name)
    .append("rect").attr("x", x0).attr("y", L.fy - 2).attr("width", w).attr("height", L.fh + 2);
  var line = d3.line()
    .x(function (d) { return x(d[0]); })
    .y(function (d) { return y(d[1]); })
    .curve(d3.curveMonotoneX);
  var g = svg.append("g").attr("clip-path", "url(#clip" + u.name + ")");
  u.rates.forEach(function (r) {
    var pts = r.slice(1).map(function (v, i) { return [u.t[i], v]; })
      .filter(function (p) { return p[0] !== undefined; });
    g.append("path")
      .attr("d", line(pts))
      .attr("fill", "none")
      .attr("stroke", groupColor(r[0]))
      .attr("stroke-width", 1.25);
  });

  // firing rate axes
  svg.append("g")
    .attr("transform", "translate(" + x0 + ",0)")
    .call(d3.axisLeft(y).tickValues(u.yTicks).tickSize(0).tickPadding(5).tickFormat(function (d) { return String(d); }))
    .call(styleAxis);
  svg.append("g")
    .attr("transform", "translate(0," + (L.fy + L.fh) + ")")
    .call(d3.axisBottom(x).tickValues([]).tickSizeOuter(0))
    .call(styleAxis);

  // peak markers + R² labels
  var offs = labelOffsets[u.name];
  u.peaks.forEach(function (p, i) {
    var o = offs[i];
    var s = o[2] || 5;
    var px = x(p[0]), py = y(p[1]);
    svg.append("rect")
      .attr("x", px - s / 2).attr("y", py - s / 2)
      .attr("width", s).attr("height", s)
      .attr("fill", "#111")
      .attr("stroke", o[2] ? "none" : "#ece2a6")
      .attr("stroke-width", 1);
    svg.append("text")
      .attr("x", px + o[0])
      .attr("y", py + o[1] + 4.3)
      .attr("text-anchor", "middle")
      .attr("font-size", 12)
      .text(p[2]);
  });

  // correlation panel
  svg.append("g")
    .attr("transform", "translate(" + x0 + ",0)")
    .call(d3.axisLeft(yc).tickValues(u.cTicks).tickSize(0).tickPadding(5).tickFormat(function (d) { return String(d); }))
    .call(styleAxis);
  svg.append("g")
    .attr("transform", "translate(0," + (L.cy + L.ch) + ")")
    .call(d3.axisBottom(x).tickValues(u.xTicks).tickSize(0).tickPadding(5).tickFormat(function (d) { return String(d); }))
    .call(styleAxis);
  var cline = d3.line()
    .x(function (d) { return x(d[0]); })
    .y(function (d) { return yc(d[1]); })
    .curve(d3.curveMonotoneX);
  svg.append("path")
    .attr("d", cline(u.corr))
    .attr("fill", "none")
    .attr("stroke", "#000")
    .attr("stroke-width", 1.6);
}

units.forEach(drawUnit);

// ---------- axis titles ----------
rowLayout.forEach(function (L) {
  [96, 637].forEach(function (lx) {
    svg.append("text")
      .attr("transform", "translate(" + lx + "," + (L.fy + L.fh / 2 - 5) + ") rotate(-90)")
      .attr("text-anchor", "middle")
      .attr("font-size", 14.5)
      .text("Firing rate change (Hz)");
    svg.append("text")
      .attr("transform", "translate(" + lx + "," + (L.cy + L.ch / 2) + ") rotate(-90)")
      .attr("text-anchor", "middle")
      .attr("font-size", 14.5)
      .text("Correlation");
  });
});
var Lf = rowLayout[2];
Lf.xs.forEach(function (x0) {
  svg.append("text")
    .attr("x", x0 + Lf.w / 2)
    .attr("y", 991)
    .attr("text-anchor", "middle")
    .attr("font-size", 15)
    .text("Time (s)");
});

// ---------- column headers ----------
var headers = [
  { text: "All components with R² ≥ 0.5", cx: 328, x1: 98, x2: 557 },
  { text: "One or more components with R² < 0.5", cx: 874, x1: 649, x2: 1107 }
];
headers.forEach(function (h) {
  svg.append("text")
    .attr("x", h.cx).attr("y", 29)
    .attr("text-anchor", "middle")
    .attr("font-size", 25.5)
    .text(h.text);
  svg.append("line")
    .attr("x1", h.x1).attr("x2", h.x2)
    .attr("y1", 46).attr("y2", 46)
    .attr("stroke", "#333").attr("stroke-width", 1.5);
});

// ---------- monkey labels ----------
var monkeys = ["Monkey C", "Monkey N", "Monkey F"];
var monkeyBands = [[83, 350], [370, 655], [680, 960]];
monkeys.forEach(function (m, i) {
  var b = monkeyBands[i];
  svg.append("text")
    .attr("transform", "translate(38," + ((b[0] + b[1]) / 2) + ") rotate(-90)")
    .attr("text-anchor", "middle")
    .attr("font-size", 24)
    .text(m);
  svg.append("line")
    .attr("x1", 53.5).attr("x2", 53.5)
    .attr("y1", b[0]).attr("y2", b[1])
    .attr("stroke", "#333").attr("stroke-width", 1.5);
});
</script>
</body>
</html>
